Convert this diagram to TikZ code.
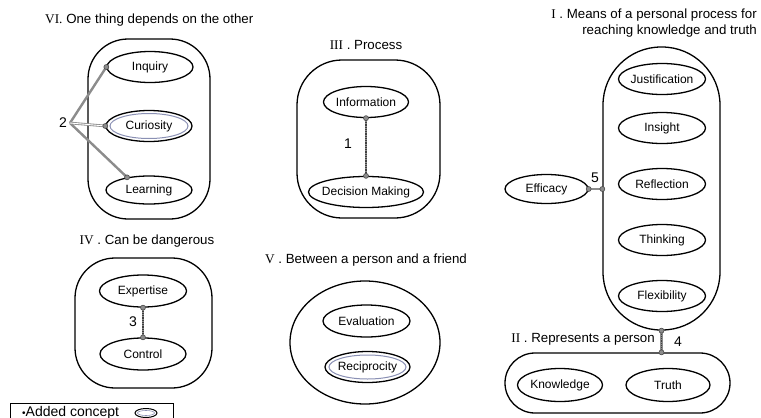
\documentclass[tikz,border=0pt]{standalone}
\usepackage{fontspec}
\setmainfont{Liberation Sans}
\newfontfamily\romfont{Liberation Serif}
\usetikzlibrary{shapes.geometric}
\definecolor{conn}{HTML}{8C8C8C}
\definecolor{innerline}{HTML}{8A90B4}
\begin{document}
\begin{tikzpicture}[x=1pt,y=-1pt,
 concept/.style={ellipse, draw, line width=1.3pt, minimum width=86pt, minimum height=31pt, inner xsep=-6pt, inner ysep=0pt, font=\fontsize{12}{14}\selectfont},
 group/.style={draw, line width=1.3pt, rectangle, inner sep=0pt},
 title/.style={font=\fontsize{13.3}{15.5}\selectfont, inner sep=0pt},
 lbl/.style={font=\fontsize{14}{16}\selectfont, inner sep=0pt},
 link/.style={draw=conn, line width=2.4pt},
 dots/.style={draw=black!75, line width=1.1pt, dash pattern=on 0.9pt off 0.9pt},
 endpt/.style={circle, draw=black!70, fill=conn, line width=0.6pt, inner sep=0pt, minimum size=5pt},
 addedring/.style={draw=innerline, line width=1pt}
]
\useasboundingbox (0,0) rectangle (761,418);
\fill[white] (0,0) rectangle (761,418);

% ---------- titles ----------
\node[title, anchor=west] (tVI) at (45,20) {{\romfont VI.} One thing depends on the other};
\node[title] (tIII) at (366,45) {{\romfont III} . Process};
\node[title, anchor=east, align=right] (tI) at (757,23) {{\romfont I} . Means of a personal process for\\reaching knowledge and truth};
\node[title] (tIV) at (147,241) {{\romfont IV} . Can be dangerous};
\node[title] (tV) at (366,260) {{\romfont V} . Between a person and a friend};
\node[title, anchor=east] (tII) at (655,339) {{\romfont II} . Represents a person};

% ---------- containers ----------
\node[group, minimum width=122pt, minimum height=180pt, rounded corners=40pt] (gVI) at (149,129) {};
\node[group, minimum width=143pt, minimum height=158pt, rounded corners=45pt] (gIII) at (368.5,139) {};
\node[group, minimum width=117pt, minimum height=283pt, rounded corners=58pt] (gI) at (661.5,188.5) {};
\node[group, minimum width=225pt, minimum height=60pt, rounded corners=30pt] (gII) at (617.5,383) {};
\node[group, minimum width=137pt, minimum height=130pt, rounded corners=40pt] (gIV) at (143.5,323) {};
\node[draw, ellipse, line width=1.3pt, minimum width=150pt, minimum height=123pt, inner sep=0pt] (gV) at (365,342.5) {};

% ---------- concepts ----------
\node[concept] (inq) at (150,67) {Inquiry};
\node[concept] (cur) at (149,126) {Curiosity};
\draw[addedring] (cur.center) ellipse (39pt and 12.5pt);
\node[concept, minimum height=28pt] (lrn) at (149,190) {Learning};

\node[concept, minimum width=85pt] (inf) at (366,102) {Information};
\node[concept, minimum width=115pt] (dm) at (366,192) {Decision Making};

\node[concept, minimum width=87pt] (jus) at (662,79) {Justification};
\node[concept, minimum width=87pt] (ins) at (662,128) {Insight};
\node[concept, minimum width=87pt] (ref) at (662,184) {Reflection};
\node[concept, minimum width=87pt] (thi) at (662,240) {Thinking};
\node[concept, minimum width=87pt] (fle) at (662,296) {Flexibility};
\node[concept, minimum width=83pt, minimum height=29pt] (eff) at (546.5,189) {Efficacy};

\node[concept, minimum width=85pt, minimum height=33pt] (kno) at (560,385) {Knowledge};
\node[concept, minimum width=84pt, minimum height=33pt] (tru) at (668,385) {Truth};

\node[concept, minimum width=87pt, minimum height=32pt] (exp) at (143,291) {Expertise};
\node[concept, minimum width=86pt, minimum height=32pt] (ctl) at (143,354) {Control};

\node[concept, minimum width=87pt, minimum height=32pt] (eva) at (366.5,321) {Evaluation};
\node[concept, minimum width=85pt, minimum height=31pt] (rec) at (367.5,367) {Reciprocity};
\draw[addedring] (rec.center) ellipse (38.5pt and 12pt);

% ---------- connector 2 ----------
\coordinate (hub) at (70,123);
\node[lbl, anchor=east] (n2) at (67,123) {2};
\draw[link] (hub) -- (inq.west);
\draw[link] (hub) -- (lrn.150);
\draw[draw=conn, line width=2.6pt] (hub) -- (cur.west);
\draw[draw=white, line width=0.9pt] (hub) -- (cur.west);
\node[endpt] at (inq.west) {};
\node[endpt] at (cur.west) {};
\node[endpt] at (lrn.150) {};

% ---------- connector 1 ----------
\draw[link] (inf.south) -- (dm.north);
\draw[dots] (inf.south) -- (dm.north);
\node[endpt] at (inf.south) {};
\node[endpt] at (dm.north) {};
\node[lbl] (n1) at (348,144) {1};

% ---------- connector 3 ----------
\draw[link] (exp.south) -- (ctl.north);
\draw[dots] (exp.south) -- (ctl.north);
\node[endpt] at (exp.south) {};
\node[endpt] at (ctl.north) {};
\node[lbl] (n3) at (133,322) {3};

% ---------- connector 4 ----------
\coordinate (c4) at (gI.south |- gII.north);
\draw[link] (gI.south) -- (c4);
\draw[dots] (gI.south) -- (c4);
\node[endpt] at (gI.south) {};
\node[endpt] at (c4) {};
\node[lbl] (n4) at (678,342) {4};

% ---------- connector 5 ----------
\coordinate (c5) at (eff.east -| gI.west);
\draw[link] (eff.east) -- (c5);
\node[endpt] at (eff.east) {};
\node[endpt] at (c5) {};
\node[lbl] (n5) at (595,178) {5};

% ---------- legend ----------
\node[draw, line width=0.6pt, minimum width=163pt, minimum height=25pt, anchor=north west] (leg) at (10,403) {};
\node[font=\fontsize{14}{16}\selectfont, inner sep=0pt, anchor=west] (legt) at (22,412.5) {{\fontsize{10}{10}\selectfont\textbullet}Added concept};
\node[ellipse, draw, line width=1pt, minimum width=22pt, minimum height=9pt, inner sep=0pt] (lege) at (146,413) {};
\draw[addedring, line width=0.6pt] (lege.center) ellipse (8.5pt and 2.5pt);
\end{tikzpicture}
\end{document}
